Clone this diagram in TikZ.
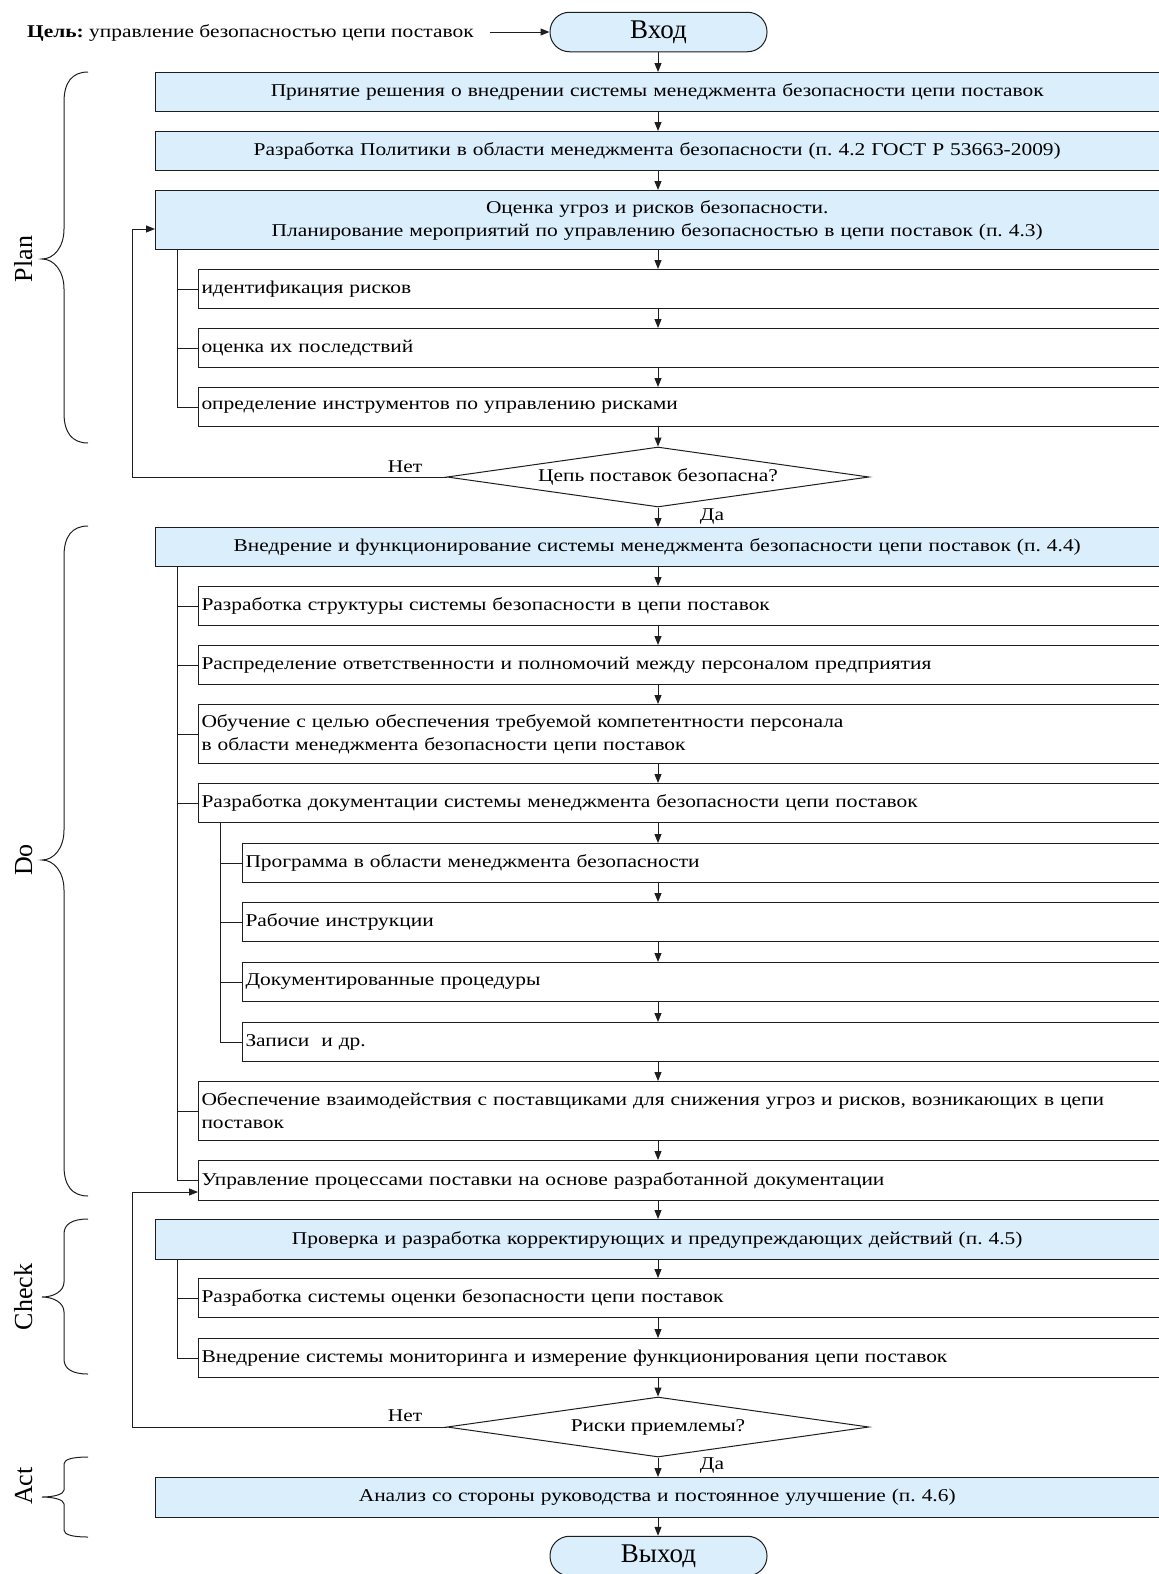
\documentclass[tikz,border=0pt]{standalone}
\usepackage{fontspec}
\setmainfont{Liberation Serif}
\newfontfamily\boxfont{Liberation Serif}[FakeStretch=1.19]
\usetikzlibrary{arrows.meta,shapes.geometric}
\definecolor{boxblue}{RGB}{218,238,252}
\definecolor{linegray}{RGB}{30,30,30}
\frenchspacing
\newcommand{\pdcabrace}[4]{%
  \draw[bracestyle] (88,#1) .. controls (72,#1) and (64,{#1+0.35*#4}) .. (64,{#1+#4})
    -- (64,{#2-#4}) .. controls (64,{#2-0.4*#4}) and (54,#2) .. (42,#2)
    .. controls (54,#2) and (64,{#2+0.4*#4}) .. (64,{#2+#4})
    -- (64,{#3-#4}) .. controls (64,{#3-0.35*#4}) and (72,#3) .. (88,#3);}
\begin{document}
\begin{tikzpicture}[x=1pt,y=-1pt,
  every node/.style={font=\boxfont\fontsize{18}{23}\selectfont, text=black},
  mainbox/.style={draw=linegray, fill=boxblue, line width=1pt, anchor=north west,
    inner xsep=3pt, inner ysep=0pt, text width=997.5pt, align=center, minimum height=39pt},
  subbox/.style={draw=linegray, fill=white, line width=1pt, anchor=north west,
    inner xsep=3pt, inner ysep=0pt, text width=954.5pt, align=left, minimum height=39pt},
  subsubbox/.style={draw=linegray, fill=white, line width=1pt, anchor=north west,
    inner xsep=3pt, inner ysep=0pt, text width=910.5pt, align=left, minimum height=39pt},
  term/.style={draw=linegray, fill=boxblue, line width=1pt, rounded corners=19.5pt,
    minimum width=217pt, minimum height=39.5pt, inner sep=0pt,
    font=\rmfamily\fontsize{27}{30}\selectfont},
  decision/.style={diamond, draw=linegray, fill=white, line width=1pt, aspect=7,
    minimum width=422pt, minimum height=60pt, inner sep=0pt},
  conn/.style={draw=linegray, line width=1pt},
  arr/.style={conn, -{Triangle[length=9pt,width=7pt]}},
  bracestyle/.style={draw=linegray, line width=1pt},
  phase/.style={rotate=90, anchor=base, inner sep=0pt, font=\rmfamily\fontsize{26}{30}\selectfont},
  lbl/.style={inner sep=0pt}
]
\useasboundingbox (0,0) rectangle (1159,1574);
\coordinate (ax) at (658,0);
\coordinate (br) at (177,0);
\coordinate (br2) at (220,0);

% goal and entry
\node[anchor=base west, inner sep=0pt] (goal) at (27,37) {\textbf{Цель:} управление безопасностью цепи поставок};
\coordinate (gs) at (490,32);
\node[term] (in) at (658.5,32) {Вход};
\draw[arr] (gs) -- (in.west);

% PLAN
\node[mainbox] (b1) at (155,72) {Принятие решения о внедрении системы менеджмента безопасности цепи поставок};
\node[mainbox] (b2) at (155,131) {Разработка Политики в области менеджмента безопасности (п. 4.2 ГОСТ Р 53663-2009)};
\node[mainbox, minimum height=59pt] (b3) at (155,190) {Оценка угроз и рисков безопасности.\\Планирование мероприятий по управлению безопасностью в цепи поставок (п. 4.3)};
\node[subbox] (p1) at (198,269) {идентификация рисков};
\node[subbox] (p2) at (198,328) {оценка их последствий};
\node[subbox] (p3) at (198,387) {определение инструментов по управлению рисками};
\node[decision] (d1) at (658,477) {Цепь поставок безопасна?};

% DO
\node[mainbox] (do) at (155,527) {Внедрение и функционирование системы менеджмента безопасности цепи поставок (п. 4.4)};
\node[subbox] (s1) at (198,586) {Разработка структуры системы безопасности в цепи поставок};
\node[subbox] (s2) at (198,645) {Распределение ответственности и полномочий между персоналом предприятия};
\node[subbox, minimum height=59pt] (s3) at (198,704) {Обучение с целью обеспечения требуемой компетентности персонала\\в области менеджмента безопасности цепи поставок};
\node[subbox] (s4) at (198,783) {Разработка документации системы менеджмента безопасности цепи поставок};
\node[subsubbox] (t1) at (242,843) {Программа в области менеджмента безопасности};
\node[subsubbox] (t2) at (242,902) {Рабочие инструкции};
\node[subsubbox] (t3) at (242,962) {Документированные процедуры};
\node[subsubbox] (t4) at (242,1022) {Записи~ и др.};
\node[subbox, minimum height=59pt] (s5) at (198,1081) {Обеспечение взаимодействия с поставщиками для снижения угроз и рисков, возникающих в цепи\\поставок};
\node[subbox, minimum height=40pt] (s6) at (198,1160) {Управление процессами поставки на основе разработанной документации};

% CHECK
\node[mainbox, minimum height=40pt] (chk) at (155,1219) {Проверка и разработка корректирующих и предупреждающих действий (п. 4.5)};
\node[subbox] (c1) at (198,1278) {Разработка системы оценки безопасности цепи поставок};
\node[subbox] (c2) at (198,1338) {Внедрение системы мониторинга и измерение функционирования цепи поставок};
\node[decision] (d2) at (658,1427) {Риски приемлемы?};

% ACT
\node[mainbox, minimum height=40pt] (act) at (155,1477) {Анализ со стороны руководства и постоянное улучшение (п. 4.6)};
\node[term] (out) at (658.5,1556) {Выход};

% main flow arrows
\draw[arr] (in.south -| ax) -- (b1.north -| ax);
\draw[arr] (b1.south -| ax) -- (b2.north -| ax);
\draw[arr] (b2.south -| ax) -- (b3.north -| ax);
\draw[arr] (b3.south -| ax) -- (p1.north -| ax);
\draw[arr] (p1.south -| ax) -- (p2.north -| ax);
\draw[arr] (p2.south -| ax) -- (p3.north -| ax);
\draw[arr] (p3.south -| ax) -- (d1.north);
\draw[arr] (d1.south) -- (do.north -| ax);
\draw[arr] (do.south -| ax) -- (s1.north -| ax);
\draw[arr] (s1.south -| ax) -- (s2.north -| ax);
\draw[arr] (s2.south -| ax) -- (s3.north -| ax);
\draw[arr] (s3.south -| ax) -- (s4.north -| ax);
\draw[arr] (s4.south -| ax) -- (t1.north -| ax);
\draw[arr] (t1.south -| ax) -- (t2.north -| ax);
\draw[arr] (t2.south -| ax) -- (t3.north -| ax);
\draw[arr] (t3.south -| ax) -- (t4.north -| ax);
\draw[arr] (t4.south -| ax) -- (s5.north -| ax);
\draw[arr] (s5.south -| ax) -- (s6.north -| ax);
\draw[arr] (s6.south -| ax) -- (chk.north -| ax);
\draw[arr] (chk.south -| ax) -- (c1.north -| ax);
\draw[arr] (c1.south -| ax) -- (c2.north -| ax);
\draw[arr] (c2.south -| ax) -- (d2.north);
\draw[arr] (d2.south) -- (act.north -| ax);
\draw[arr] (act.south -| ax) -- (out.north -| ax);

% decision labels
\node[lbl] (no1) at (405,467) {Нет};
\node[lbl] (yes1) at (712,517) {Да};
\node[lbl] (no2) at (405,1416) {Нет};
\node[lbl] (yes2) at (712,1466) {Да};

% feedback loops
\coordinate (fb1) at (132,229);
\draw[arr] (d1.west) -| (fb1) -- (fb1 -| b3.west);
\coordinate (fb2) at (132,1192);
\draw[arr] (d2.west) -| (fb2) -- (fb2 -| s6.west);

% branch lines
\draw[conn] (b3.south -| br) -- (br |- p3.west);
\foreach \n in {p1,p2,p3} \draw[conn] (br |- \n.west) -- (\n.west);
\draw[conn] (do.south -| br) -- (br |- s6.west);
\foreach \n in {s1,s2,s3,s4,s5,s6} \draw[conn] (br |- \n.west) -- (\n.west);
\draw[conn] (s4.south -| br2) -- (br2 |- t4.west);
\foreach \n in {t1,t2,t3,t4} \draw[conn] (br2 |- \n.west) -- (\n.west);
\draw[conn] (chk.south -| br) -- (br |- c2.west);
\foreach \n in {c1,c2} \draw[conn] (br |- \n.west) -- (\n.west);

% PDCA braces
\pdcabrace{72}{259}{443}{30}
\pdcabrace{526}{860}{1196}{30}
\pdcabrace{1219}{1297}{1374}{15}
\pdcabrace{1457}{1497}{1537}{7}
\node[phase] (lplan) at (32,259) {Plan};
\node[phase] (ldo) at (32,860) {Do};
\node[phase] (lcheck) at (32,1297) {Check};
\node[phase] (lact) at (32,1486) {Act};
\end{tikzpicture}
\end{document}
